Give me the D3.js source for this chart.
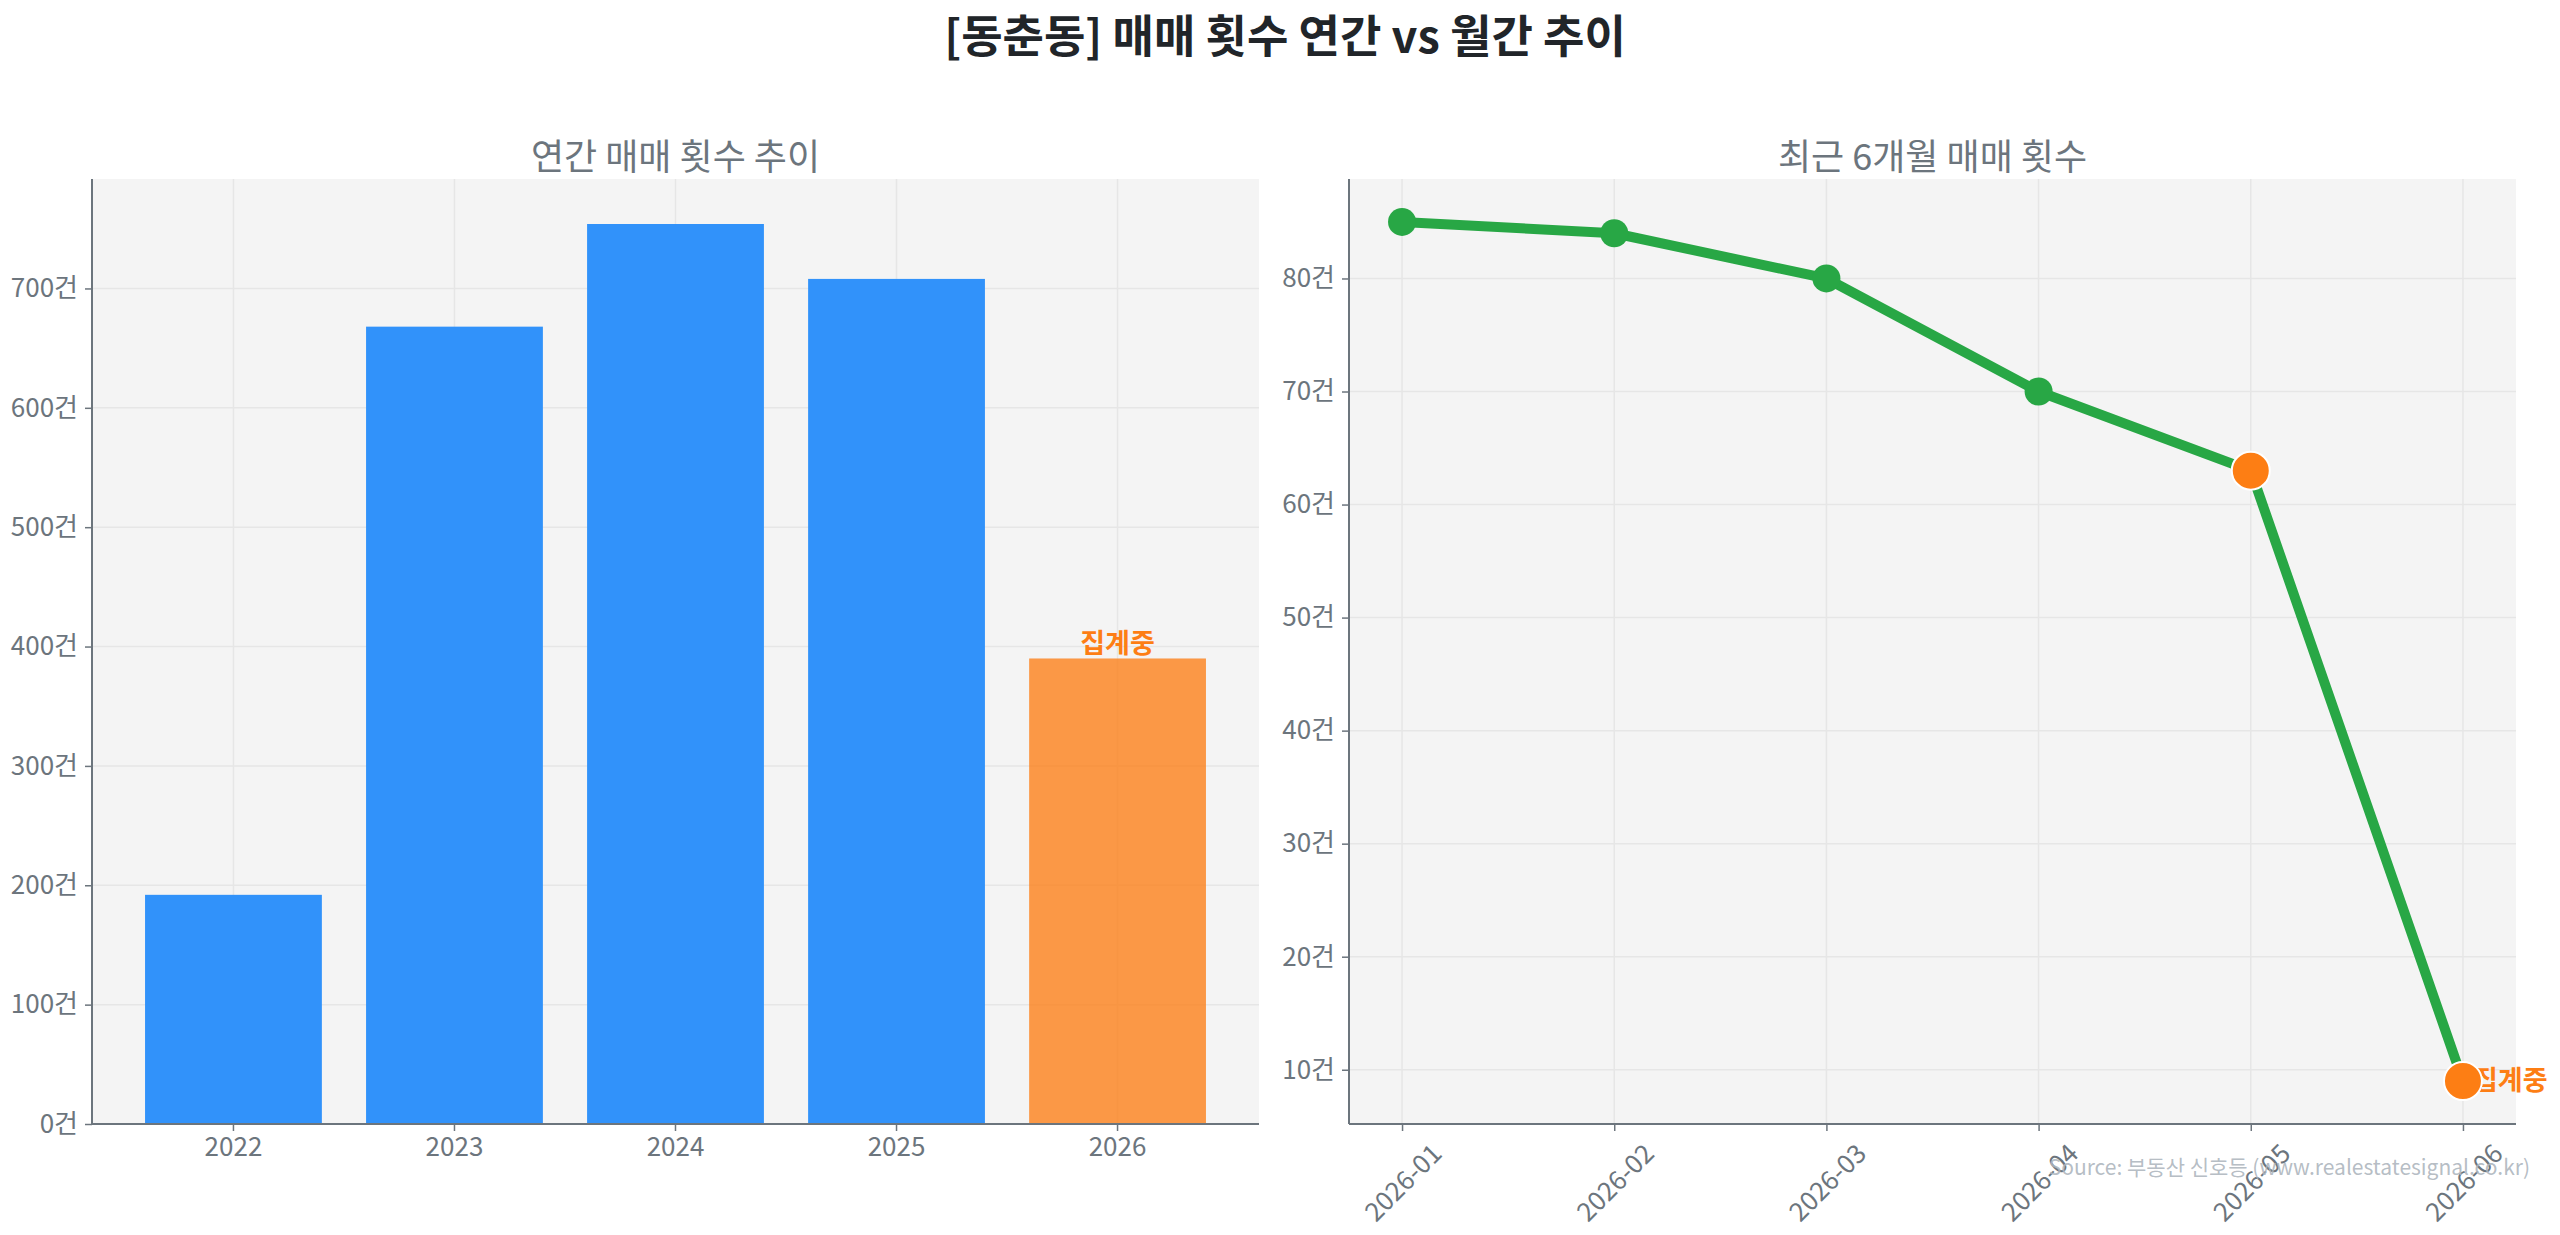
<!DOCTYPE html>
<html>
<head>
<meta charset="utf-8">
<script src="https://cdn.jsdelivr.net/npm/d3@7"></script>
<style>
  body { margin: 0; background: #ffffff; }
  svg { display: block; }
</style>
</head>
<body>
<div id="chart"></div>
<script>
// data
const years = ["2022", "2023", "2024", "2025", "2026"];
const yearlyCounts = [192, 668, 754, 708, 390];
const months = ["2026-01", "2026-02", "2026-03", "2026-04", "2026-05", "2026-06"];
const monthlyCounts = [85, 84, 80, 70, 63, 9];
const leftTicks = [0, 100, 200, 300, 400, 500, 600, 700];
const rightTicks = [10, 20, 30, 40, 50, 60, 70, 80];
const partialYear = "2026";
const highlightMonths = ["2026-05", "2026-06"];
const partialMonth = "2026-06";

const W = 2560, H = 1235;
const font = "'Noto Sans CJK KR', 'Noto Sans', sans-serif";
const gray = "#6c757d";
const gridColor = "#e6e6e6";
const panelBg = "#f4f4f4";
const tickFont = "26px";

const svg = d3.select("#chart")
  .append("svg")
    .attr("width", W)
    .attr("height", H)
    .style("font-family", font);

svg.append("rect").attr("width", W).attr("height", H).attr("fill", "#fff");

// main title
svg.append("text")
  .attr("x", 1285)
  .attr("y", 53)
  .attr("text-anchor", "middle")
  .style("font-size", "45px")
  .style("font-weight", "bold")
  .style("fill", "#212529")
  .text("[동춘동] 매매 횟수 연간 vs 월간 추이");

// panel boxes
const plotTop = 179, plotBottom = 1124;
const left1 = 92, right1 = 1259;
const left2 = 1349, right2 = 2516;

function panel(x0, x1, title) {
  svg.append("rect")
    .attr("x", x0).attr("y", plotTop)
    .attr("width", x1 - x0).attr("height", plotBottom - plotTop)
    .attr("fill", panelBg);
  svg.append("text")
    .attr("x", (x0 + x1) / 2)
    .attr("y", 170)
    .attr("text-anchor", "middle")
    .style("font-size", "36px")
    .style("fill", gray)
    .text(title);
}

function yAxis(g, scale, ticks, x0, x1) {
  // horizontal grid
  g.selectAll(".hgrid")
    .data(ticks)
    .join("line")
      .attr("x1", x0).attr("x2", x1)
      .attr("y1", d => scale(d)).attr("y2", d => scale(d))
      .attr("stroke", gridColor)
      .attr("stroke-width", 1.5);
  const ax = g.append("g")
    .attr("transform", `translate(${x0},0)`)
    .call(d3.axisLeft(scale)
      .tickValues(ticks)
      .tickSize(7)
      .tickPadding(7)
      .tickFormat(d => d + "건"));
  ax.select(".domain").remove();
  ax.selectAll(".tick line").attr("stroke", gray).attr("stroke-width", 1.5);
  ax.selectAll(".tick text")
    .style("font-size", tickFont)
    .style("font-family", font)
    .style("fill", gray);
}

// ---------- left: yearly bars ----------
panel(left1, right1, "연간 매매 횟수 추이");

const x1 = d3.scaleBand()
  .domain(years)
  .range([left1, right1])
  .paddingInner(0.2)
  .paddingOuter(0.24);

const y1 = d3.scaleLinear()
  .domain([0, d3.max(yearlyCounts) * 1.05])
  .range([plotBottom, plotTop]);

const g1 = svg.append("g");

// vertical grid
g1.selectAll(".vgrid")
  .data(years)
  .join("line")
    .attr("x1", d => x1(d) + x1.bandwidth() / 2)
    .attr("x2", d => x1(d) + x1.bandwidth() / 2)
    .attr("y1", plotTop).attr("y2", plotBottom)
    .attr("stroke", gridColor)
    .attr("stroke-width", 1.5);

yAxis(g1, y1, leftTicks, left1, right1);

const yearly = years.map((d, i) => ({ year: d, value: yearlyCounts[i] }));

g1.selectAll(".bar")
  .data(yearly)
  .join("rect")
    .attr("x", d => x1(d.year))
    .attr("y", d => y1(d.value))
    .attr("width", x1.bandwidth())
    .attr("height", d => y1(0) - y1(d.value))
    .attr("fill", d => d.year === partialYear ? "#fd7e14" : "#3192fa")
    .attr("fill-opacity", d => d.year === partialYear ? 0.78 : 1);

// label on the incomplete year
g1.selectAll(".partial")
  .data(yearly.filter(d => d.year === partialYear))
  .join("text")
    .attr("x", d => x1(d.year) + x1.bandwidth() / 2)
    .attr("y", d => y1(d.value) - 5)
    .attr("text-anchor", "middle")
    .style("font-size", "27px")
    .style("font-weight", "bold")
    .style("fill", "#fd7e14")
    .text("집계중");

const xa1 = g1.append("g")
  .attr("transform", `translate(0,${plotBottom})`)
  .call(d3.axisBottom(x1).tickSize(7).tickPadding(7));
xa1.select(".domain").remove();
xa1.selectAll(".tick line").attr("stroke", gray).attr("stroke-width", 1.5);
xa1.selectAll(".tick text")
  .style("font-size", tickFont)
  .style("font-family", font)
  .style("fill", gray);

// spines
g1.append("line").attr("x1", left1).attr("x2", left1).attr("y1", plotTop).attr("y2", plotBottom)
  .attr("stroke", gray).attr("stroke-width", 2);
g1.append("line").attr("x1", left1).attr("x2", right1).attr("y1", plotBottom).attr("y2", plotBottom)
  .attr("stroke", gray).attr("stroke-width", 2);

// ---------- right: monthly line ----------
panel(left2, right2, "최근 6개월 매매 횟수");

const x2 = d3.scalePoint()
  .domain(months)
  .range([left2, right2])
  .padding(0.25);

const ext = d3.extent(monthlyCounts);
const pad = (ext[1] - ext[0]) * 0.05;
const y2 = d3.scaleLinear()
  .domain([ext[0] - pad, ext[1] + pad])
  .range([plotBottom, plotTop]);

const g2 = svg.append("g");

g2.selectAll(".vgrid")
  .data(months)
  .join("line")
    .attr("x1", d => x2(d)).attr("x2", d => x2(d))
    .attr("y1", plotTop).attr("y2", plotBottom)
    .attr("stroke", gridColor)
    .attr("stroke-width", 1.5);

yAxis(g2, y2, rightTicks, left2, right2);

const monthly = months.map((d, i) => ({ month: d, value: monthlyCounts[i] }));

g2.append("path")
  .datum(monthly)
  .attr("fill", "none")
  .attr("stroke", "#28a745")
  .attr("stroke-width", 10)
  .attr("stroke-linejoin", "round")
  .attr("d", d3.line().x(d => x2(d.month)).y(d => y2(d.value)));

g2.selectAll(".dot")
  .data(monthly)
  .join("circle")
    .attr("cx", d => x2(d.month))
    .attr("cy", d => y2(d.value))
    .attr("r", 14)
    .attr("fill", "#28a745");

// label for the month still being counted (sits under the marker)
g2.selectAll(".partial")
  .data(monthly.filter(d => d.month === partialMonth))
  .join("text")
    .attr("x", d => x2(d.month) + 10)
    .attr("y", d => y2(d.value))
    .attr("dy", "0.35em")
    .style("font-size", "27px")
    .style("font-weight", "bold")
    .style("fill", "#fd7e14")
    .text("집계중");

g2.selectAll(".hl")
  .data(monthly.filter(d => highlightMonths.includes(d.month)))
  .join("circle")
    .attr("cx", d => x2(d.month))
    .attr("cy", d => y2(d.value))
    .attr("r", 19)
    .attr("fill", "#fd7e14")
    .attr("stroke", "#fff")
    .attr("stroke-width", 2);

const xa2 = g2.append("g")
  .attr("transform", `translate(0,${plotBottom})`)
  .call(d3.axisBottom(x2).tickSize(7).tickPadding(0));
xa2.select(".domain").remove();
xa2.selectAll(".tick line").attr("stroke", gray).attr("stroke-width", 1.5);
xa2.selectAll(".tick text")
  .attr("y", 0)
  .attr("dy", 0)
  .attr("text-anchor", "middle")
  .attr("dominant-baseline", "central")
  .attr("transform", "translate(-1,57) rotate(-45)")
  .style("font-size", tickFont)
  .style("font-family", font)
  .style("fill", gray);

g2.append("line").attr("x1", left2).attr("x2", left2).attr("y1", plotTop).attr("y2", plotBottom)
  .attr("stroke", gray).attr("stroke-width", 2);
g2.append("line").attr("x1", left2).attr("x2", right2).attr("y1", plotBottom).attr("y2", plotBottom)
  .attr("stroke", gray).attr("stroke-width", 2);

// source note
svg.append("text")
  .attr("x", 2530)
  .attr("y", 1175)
  .attr("text-anchor", "end")
  .style("font-size", "21px")
  .style("fill", "#adb5bd")
  .style("fill-opacity", 0.9)
  .text("Source: 부동산 신호등 (www.realestatesignal.co.kr)");
</script>
</body>
</html>
